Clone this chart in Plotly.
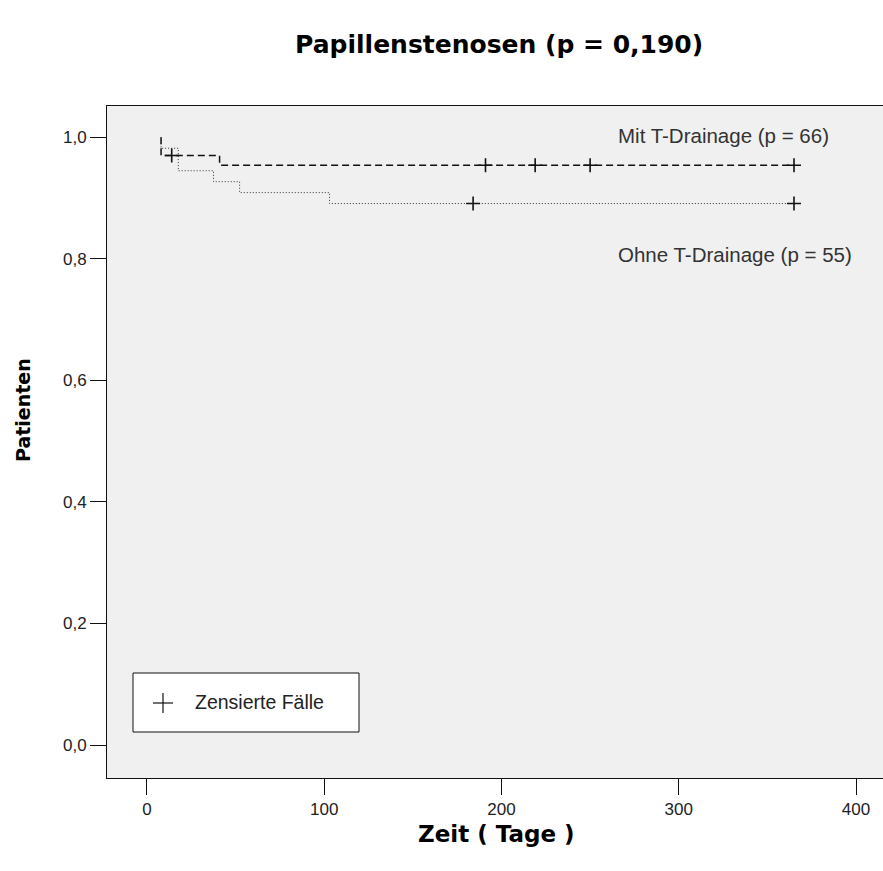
import plotly.graph_objects as go

# ---- data ----
mit_times = [8, 8, 41, 365]
mit_surv = [1.0, 0.970, 0.954, 0.954]
mit_cens_times = [14, 191, 219, 250, 365]
mit_cens_surv = [0.970, 0.954, 0.954, 0.954, 0.954]

ohne_times = [8, 8, 17.7, 37.6, 52.3, 103, 365]
ohne_surv = [1.0, 0.982, 0.945, 0.927, 0.909, 0.891, 0.891]
ohne_cens_times = [184, 365]
ohne_cens_surv = [0.891, 0.891]

x_ticks = [0, 100, 200, 300, 400]
y_ticks = [0.0, 0.2, 0.4, 0.6, 0.8, 1.0]

title_text = "Papillenstenosen (p = 0,190)"
x_title = "Zeit ( Tage )"
y_title = "Patienten"
label_mit = "Mit T-Drainage (p = 66)"
label_ohne = "Ohne T-Drainage (p = 55)"
legend_text = "Zensierte Fälle"

W, H = 883, 871
L, R, T, B = 107, 0, 106, 93
PW, PH = W - L - R, H - T - B


def px(x):
    return (x - L) / PW


def py(y):
    return (H - B - y) / PH


fig = go.Figure()

fig.add_trace(go.Scatter(
    x=mit_times, y=mit_surv, mode="lines", line_shape="hv",
    line=dict(color="#111111", width=1.5, dash="7px,4px"),
    showlegend=False, hoverinfo="skip"))
fig.add_trace(go.Scatter(
    x=ohne_times, y=ohne_surv, mode="lines", line_shape="hv",
    line=dict(color="#333333", width=1, dash="1px,2px"),
    showlegend=False, hoverinfo="skip"))
fig.add_trace(go.Scatter(
    x=mit_cens_times, y=mit_cens_surv, mode="markers",
    marker=dict(symbol="cross-thin", size=10, line=dict(color="#111111", width=1.6)),
    showlegend=False, hoverinfo="skip"))
fig.add_trace(go.Scatter(
    x=ohne_cens_times, y=ohne_cens_surv, mode="markers",
    marker=dict(symbol="cross-thin", size=10, line=dict(color="#111111", width=1.6)),
    showlegend=False, hoverinfo="skip"))

tick_font = dict(family="Liberation Sans, Arial, sans-serif", size=17, color="#222222")
label_font = dict(family="Liberation Sans, Arial, sans-serif", size=20.5, color="#333333")
bold_font = "DejaVu Sans, Arial, sans-serif"

fig.update_layout(
    width=W, height=H,
    margin=dict(l=L, r=R, t=T, b=B, pad=0),
    paper_bgcolor="white",
    plot_bgcolor="#f0f0f0",
    separators=",.",
    xaxis=dict(range=[-22.5, 415.2], tickvals=x_ticks, ticks="outside", ticklen=16,
               tickcolor="#111111", tickwidth=1, showline=True, linecolor="#111111",
               linewidth=1, mirror=True, showgrid=False, zeroline=False,
               tickfont=tick_font),
    yaxis=dict(range=[-0.0543, 1.0515], tickvals=y_ticks, tickformat=".1f",
               ticks="outside", ticklen=16, tickcolor="#111111", tickwidth=1,
               showline=True, linecolor="#111111", linewidth=1, showgrid=False,
               zeroline=False, tickfont=tick_font),
)

annotations = [
    dict(text="<b>" + title_text + "</b>", x=px(498.5), y=py(45), xref="paper", yref="paper",
         xanchor="center", yanchor="middle", showarrow=False,
         font=dict(family=bold_font, size=25, color="#000000")),
    dict(text="<b>" + x_title + "</b>", x=px(496), y=py(834), xref="paper", yref="paper",
         xanchor="center", yanchor="middle", showarrow=False,
         font=dict(family=bold_font, size=23, color="#000000")),
    dict(text="<b>" + y_title + "</b>", x=px(23), y=py(410), xref="paper", yref="paper",
         xanchor="center", yanchor="middle", showarrow=False, textangle=-90,
         font=dict(family=bold_font, size=19, color="#000000")),
    dict(text=label_mit, x=px(616), y=py(135.5), xref="paper", yref="paper",
         xanchor="left", yanchor="middle", showarrow=False, font=label_font),
    dict(text=label_ohne, x=px(616), y=py(254.5), xref="paper", yref="paper",
         xanchor="left", yanchor="middle", showarrow=False, font=label_font),
    dict(text=legend_text, x=px(193), y=py(702), xref="paper", yref="paper",
         xanchor="left", yanchor="middle", showarrow=False,
         font=dict(family="Liberation Sans, Arial, sans-serif", size=19.5, color="#222222")),
]
fig.update_layout(annotations=annotations)

shapes = [
    dict(type="rect", xref="paper", yref="paper", x0=px(133), x1=px(359), y0=py(732), y1=py(673),
         line=dict(color="#111111", width=1), fillcolor="white", layer="above"),
    dict(type="line", xref="paper", yref="paper", x0=px(153), x1=px(173), y0=py(703), y1=py(703),
         line=dict(color="#111111", width=1.2)),
    dict(type="line", xref="paper", yref="paper", x0=px(163), x1=px(163), y0=py(693), y1=py(713),
         line=dict(color="#111111", width=1.2)),
]
fig.update_layout(shapes=shapes)

fig.write_html("out.html")
